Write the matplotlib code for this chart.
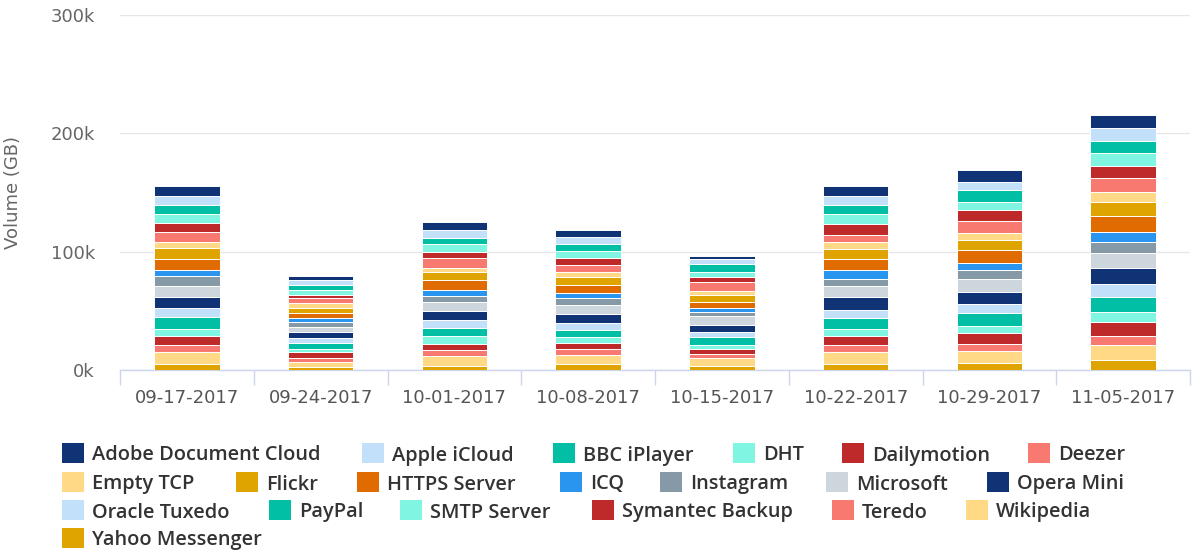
import matplotlib
matplotlib.use("Agg")
import matplotlib.pyplot as plt
from matplotlib.patches import Rectangle
from matplotlib.ticker import FixedLocator, FuncFormatter
import numpy as np

categories = ["09-17-2017", "09-24-2017", "10-01-2017", "10-08-2017",
              "10-15-2017", "10-22-2017", "10-29-2017", "11-05-2017"]

series_names = ["Adobe Document Cloud", "Apple iCloud", "BBC iPlayer", "DHT",
                "Dailymotion", "Deezer", "Empty TCP", "Flickr", "HTTPS Server",
                "ICQ", "Instagram", "Microsoft", "Opera Mini", "Oracle Tuxedo",
                "PayPal", "SMTP Server", "Symantec Backup", "Teredo", "Wikipedia",
                "Yahoo Messenger"]

# values in GB (thousands)
adobe_document_cloud = [8400, 3700, 7000, 5600, 2800, 8400, 10400, 11000]
apple_icloud        = [7900, 3700, 7000, 6200, 4200, 7900, 7000, 10700]
bbc_iplayer         = [7300, 4200, 4800, 5600, 7000, 7300, 9800, 10400]
dht                 = [7600, 4200, 7000, 6200, 4200, 8200, 7000, 11200]
dailymotion         = [7600, 2800, 4500, 5600, 4200, 9300, 9000, 10100]
deezer              = [8400, 4800, 8400, 6500, 7000, 6200, 10100, 11800]
empty_tcp           = [5100, 4200, 3900, 3700, 3700, 5600, 6200, 8400]
flickr              = [9000, 4200, 6800, 6800, 5600, 9000, 8400, 11800]
https_server        = [9800, 4200, 8200, 7300, 5600, 9300, 10700, 13500]
icq                 = [4800, 2800, 4800, 3900, 3400, 7000, 6200, 8400]
instagram           = [8400, 4200, 5100, 5600, 3400, 6200, 7000, 9800]
microsoft           = [9300, 4200, 7600, 7900, 7300, 9300, 11200, 12700]
opera_mini          = [9300, 5100, 7900, 7600, 5600, 11200, 10400, 13200]
oracle_tuxedo       = [7600, 4800, 7000, 5900, 4800, 7000, 7900, 10700]
paypal              = [10400, 4800, 6200, 5600, 6500, 9000, 10700, 13200]
smtp_server         = [5900, 2800, 7300, 5300, 3400, 5900, 6200, 7900]
symantec_backup     = [7600, 4500, 4800, 5100, 4200, 7600, 9000, 12100]
teredo              = [5600, 3400, 4800, 5100, 3700, 5600, 5600, 7600]
wikipedia           = [10700, 4200, 8400, 7600, 6200, 10700, 10100, 12700]
yahoo_messenger     = [4800, 2800, 3700, 5100, 3700, 4800, 6200, 8400]

series_values = [adobe_document_cloud, apple_icloud, bbc_iplayer, dht, dailymotion,
                 deezer, empty_tcp, flickr, https_server, icq, instagram, microsoft,
                 opera_mini, oracle_tuxedo, paypal, smtp_server, symantec_backup,
                 teredo, wikipedia, yahoo_messenger]

NAVY, LBLUE, TEAL, AQUA, RED, SALMON, LYEL, GOLD = ("#0f3375", "#c3e0fa", "#00bfa5",
    "#80f5e2", "#be2a2a", "#f8796f", "#ffd985", "#e0a400")
series_colors = [NAVY, LBLUE, TEAL, AQUA, RED, SALMON, LYEL, GOLD, "#e06b00",
                 "#2a95ef", "#8599a6", "#cdd6dc", NAVY, LBLUE, TEAL, AQUA, RED,
                 SALMON, LYEL, GOLD]

W, H = 1192, 553
fig = plt.figure(figsize=(W / 100, H / 100), dpi=100)
ax = fig.add_axes([120 / W, (H - 370) / H, 1070 / W, 355 / H])

x = np.arange(len(categories))
bottom = np.zeros(len(categories))
# stack from the last series (bottom) to the first (top)
for name, vals, col in reversed(list(zip(series_names, series_values, series_colors))):
    v = np.array(vals, dtype=float)
    ax.bar(x, v, bottom=bottom, width=0.49, color=col, edgecolor="white",
           linewidth=0.7, zorder=3)
    bottom += v

ax.set_xlim(-0.5, len(categories) - 0.5)
ax.set_ylim(0, 300000)
ax.yaxis.set_major_locator(FixedLocator([0, 100000, 200000, 300000]))
ax.yaxis.set_major_formatter(FuncFormatter(lambda v, p: f"{v/1000:.0f}k"))
ax.grid(axis="y", color="#e6e6e6", linewidth=1, zorder=0)
ax.set_axisbelow(True)

for s in ["top", "right", "left"]:
    ax.spines[s].set_visible(False)
ax.spines["bottom"].set_color("#ccd6eb")
ax.spines["bottom"].set_linewidth(1)

ax.set_xticks(x)
ax.set_xticklabels(categories)
ax.xaxis.set_minor_locator(FixedLocator(np.arange(-0.5, len(categories), 1.0)))
ax.tick_params(axis="x", which="major", length=0, pad=14, labelsize=13,
               labelcolor="#555555")
ax.tick_params(axis="x", which="minor", length=11, color="#ccd6eb", width=1)
ax.tick_params(axis="y", length=0, pad=18, labelsize=13, labelcolor="#666666")

ax.set_ylabel("Volume (GB)", fontsize=13, color="#666666")
ax.yaxis.set_label_coords((22 - 120) / 1070, 0.5)

# legend (flowing layout as in the reference)
legend_layout = [
    (453, [62, 362, 553, 733, 842, 1028]),
    (482, [62, 236, 357, 560, 660, 826, 987]),
    (510, [62, 269, 400, 592, 832, 966]),
    (538, [62]),
]

leg_font = dict(family=["Open Sans", "DejaVu Sans"], weight=600)
# fit font size so the first label spans ~230 px like the reference
renderer = fig.canvas.get_renderer()
t = fig.text(0, 0, series_names[0], fontsize=14, **leg_font)
wpx = t.get_window_extent(renderer=renderer).width
t.remove()
leg_size = 14 * 230 / wpx

idx = 0
for row_y, xs in legend_layout:
    for mx in xs:
        name = series_names[idx]
        col = series_colors[idx]
        fig.add_artist(Rectangle((mx / W, (H - row_y - 10) / H), 22 / W, 20 / H,
                                 transform=fig.transFigure, facecolor=col,
                                 edgecolor="none"))
        fig.text((mx + 30) / W, (H - row_y) / H, name, fontsize=leg_size,
                 color="#333333", va="center_baseline", ha="left", **leg_font)
        idx += 1

fig.savefig("out.png", dpi=100)
